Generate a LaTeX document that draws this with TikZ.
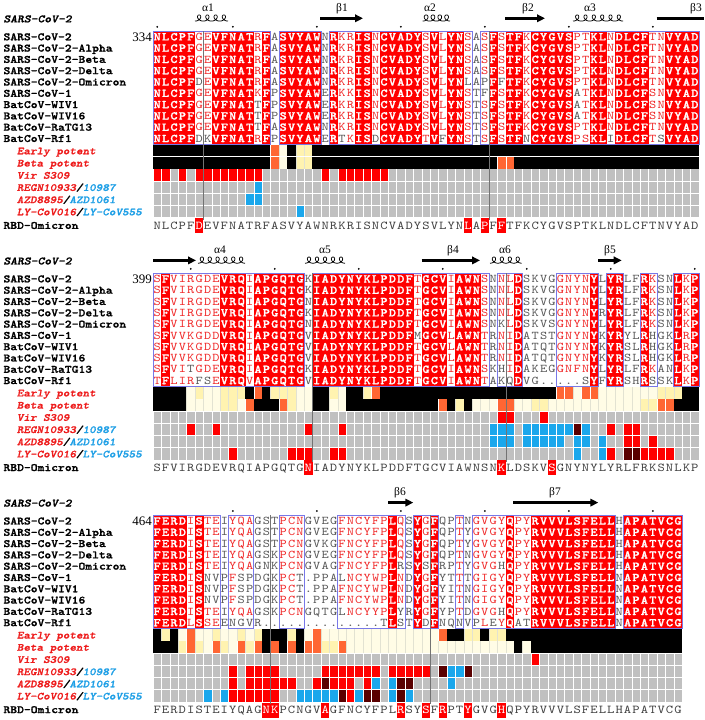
\documentclass[tikz,border=0pt]{standalone}
\usepackage{fontspec}
\setmainfont{Liberation Serif}
\newfontfamily\cour{lmmono10-regular}[Extension=.otf, BoldFont=lmmonolt10-bold, BoldItalicFont=lmmonolt10-boldoblique, BoldFeatures={FakeBold=1.3}, BoldItalicFeatures={FakeBold=1.3}, FakeStretch=1.16]
\usetikzlibrary{arrows.meta}
\definecolor{esred}{HTML}{FF0000}
\definecolor{txtred}{HTML}{F02828}
\definecolor{txtgrey}{HTML}{585858}
\definecolor{omigrey}{HTML}{404040}
\definecolor{framebl}{HTML}{7878E8}
\definecolor{annK}{HTML}{000000}
\definecolor{annO}{HTML}{FF6633}
\definecolor{annY}{HTML}{FFF3B0}
\definecolor{annC}{HTML}{FFFCE6}
\definecolor{annG}{HTML}{C0C0C0}
\definecolor{annR}{HTML}{FF0000}
\definecolor{annB}{HTML}{1AA7EC}
\definecolor{annM}{HTML}{5A0000}
\definecolor{sepl}{HTML}{E2E2D2}
\definecolor{labred}{HTML}{EE1C1C}
\definecolor{labblue}{HTML}{1E9FE6}
\tikzset{
 seqw/.style={font=\cour\bfseries\fontsize{11.8}{12}\selectfont, text=white, inner sep=0pt, anchor=base},
 seqt/.style={font=\cour\fontsize{11.8}{12}\selectfont, inner sep=0pt, anchor=base},
 omi/.style={font=\cour\fontsize{12}{12}\selectfont, inner sep=0pt, anchor=base, text=omigrey},
 namef/.style={font=\cour\bfseries\fontsize{11.2}{12}\selectfont, inner sep=0pt, anchor=base west},
 hdrf/.style={font=\cour\bfseries\itshape\fontsize{11.2}{12}\selectfont, inner sep=0pt, anchor=base west},
 annlab/.style={font=\cour\bfseries\itshape\fontsize{10.8}{12}\selectfont, inner sep=0pt, anchor=base west},
 sslab/.style={font=\fontsize{11.5}{12}\selectfont, inner sep=0pt, anchor=base},
 numf/.style={font=\fontsize{13}{13}\selectfont, inner sep=0pt, anchor=base east},
 frm/.style={draw=framebl, line width=0.7pt},
 cursor/.style={draw=black!55, line width=0.45pt},
 helixst/.style={line width=0.75pt},
 strand/.style={line width=2.6pt, -{Triangle[length=8pt,width=7.5pt]}},
 strandnohead/.style={line width=2.6pt}
}
% ---------- cell drawing (block, row, col, char)
\newcommand\AlnCellR[4]{%
  \pgfmathsetmacro\alnx{153+(#3-1)*8.4}%
  \pgfmathsetmacro\alny{31.2+(#2-1)*11.3+242.1*(#1-1)}%
  \fill[esred] (\alnx,\alny) rectangle ++(8.55,11.45);
  \node[seqw,name=s#1-#2-#3] at (\alnx+4.2,\alny+9.2) {#4};}
\newcommand\AlnCellT[5]{%
  \pgfmathsetmacro\alnx{153+(#3-1)*8.4}%
  \pgfmathsetmacro\alny{31.2+(#2-1)*11.3+242.1*(#1-1)}%
  \node[seqt,text=#5,name=s#1-#2-#3] at (\alnx+4.2,\alny+9.2) {#4};}
\newcommand\AlnAnnCell[5]{%
  \pgfmathsetmacro\alnx{153+(#3-1)*8.4}%
  \pgfmathsetmacro\alny{145+(#2-1)*12.2+242.1*(#1-1)}%
  \fill[#4] (\alnx,\alny) rectangle ++(8.45,11.4);
  \draw[#5, line width=0.35pt] (\alnx,\alny) -- ++(0,11.4);}
\newcommand\AlnOmiN[3]{%
  \pgfmathsetmacro\alnx{153+(#2-0.5)*8.4}%
  \pgfmathsetmacro\alny{225.5+3.65+242.1*(#1-1)}%
  \node[omi,name=o#1-#2] at (\alnx,\alny) {#3};}
\newcommand\AlnOmiM[3]{%
  \pgfmathsetmacro\alnx{153+(#2-1)*8.4}%
  \pgfmathsetmacro\alny{218.3+242.1*(#1-1)}%
  \fill[esred] (\alnx,\alny) rectangle ++(8.4,15);
  \node[omi,text=white,name=o#1-#2] at (\alnx+4.2,\alny+10.85) {#3};}
\newcommand\AlnFrame[3]{\draw[frm] ({153+(#2-1)*8.4},{31.2+242.1*(#1-1)}) rectangle ({153+#3*8.4},{144.2+242.1*(#1-1)});}
\newcommand\AlnCursor[2]{\draw[cursor] ({153+#2*8.4},{31.2+242.1*(#1-1)}) -- ({153+#2*8.4},{220+242.1*(#1-1)});}
\newcommand\AlnHelix[4]{%
  \pgfmathsetmacro\hend{180+360*#3}%
  \pgfmathtruncatemacro\hs{40*#3+1}%
  \pgfmathsetmacro\hp{(#2-#1)/#3}%
  \draw[helixst] plot[domain=180:\hend, samples=\hs, smooth, variable=\t] ({#1+((\t-180)/360)*\hp-3.4*sin(\t)},{#4-3.1*cos(\t)});}
\newcommand\AlnDots[2]{%
  \foreach \c in {#2} \fill ({153+(\c-0.5)*8.4},{26.8+242.1*(#1-1)}) circle (1.0);}
\newcommand\AlnLabels[2]{%
  \pgfmathsetmacro\oy{242.1*(#1-1)}%
  \node[hdrf, name=hdr#1] at (3.3,22.35+\oy) {SARS-CoV-2};
  \foreach \nm [count=\i] in {SARS-CoV-2,SARS-CoV-2-Alpha,SARS-CoV-2-Beta,SARS-CoV-2-Delta,SARS-CoV-2-Omicron,SARS-CoV-1,BatCoV-WIV1,BatCoV-WIV16,BatCoV-RaTG13,BatCoV-Rf1}
    {\node[namef, name=nm#1-\i] at (3.3,{36.85+(\i-1)*11.3+3.4+\oy}) {\nm};}
  \node[annlab, text=labred, name=la#1-1] at (16.7,{154.3+\oy}) {Early potent};
  \node[annlab, text=labred, name=la#1-2] at (16.7,{166.5+\oy}) {Beta potent};
  \node[annlab, text=labred, name=la#1-3] at (16.7,{178.7+\oy}) {Vir S309};
  \node[annlab, name=la#1-4] at (16.7,{190.9+\oy}) {\textcolor{labred}{REGN10933}/\textcolor{labblue}{10987}};
  \node[annlab, name=la#1-5] at (16.7,{203.1+\oy}) {\textcolor{labred}{AZD8895}/\textcolor{labblue}{AZD1061}};
  \node[annlab, name=la#1-6] at (16.7,{215.3+\oy}) {\textcolor{labred}{LY-CoV016}/\textcolor{labblue}{LY-CoV555}};
  \node[namef, name=rbd#1] at (3.3,{228.9+\oy}) {RBD-Omicron};
  \node[numf, name=num#1] at (152,{41+\oy}) {#2};}
\ExplSyntaxOn
\str_new:N \l__aln_row_str
\str_new:N \l__aln_cls_str
\str_new:N \l__aln_ref_str
\str_new:N \l__aln_ch_str
\str_new:N \l__aln_c_str
\str_new:N \l__aln_r_str
\cs_new:Npn \Rep #1#2 { \prg_replicate:nn {#1} {#2} }
\cs_new:Npn \__aln_grp:n #1
  { \str_case:nnF {#1} { {K}{k} {R}{k} {I}{i} {L}{i} {V}{i} {M}{i} {F}{f} {Y}{f} {W}{f} {D}{d} {E}{d} {N}{n} {Q}{n} {S}{s} {T}{s} } {#1} }
\cs_new_protected:Npn \__aln_cell:nnnnnn #1#2#3#4#5#6
  {
    \str_case:nnF {#5}
      {
        {R} { \AlnCellR {#1} {#2} {#3} {#4} }
        {s} { \str_if_eq:eeTF { \__aln_grp:n {#4} } { \__aln_grp:n {#6} }
               { \AlnCellT {#1} {#2} {#3} {#4} {txtred} }
               { \AlnCellT {#1} {#2} {#3} {#4} {txtgrey} } }
      }
      { \AlnCellT {#1} {#2} {#3} {#4} {txtgrey} }
  }
\cs_generate_variant:Nn \__aln_cell:nnnnnn { nnnVVV }
\cs_new_protected:Npn \__aln_row:nnn #1#2#3
  {
    \str_set:Nx \l__aln_row_str {#3}
    \int_step_inline:nn { \str_count:N \l__aln_row_str }
      {
        \str_set:Nx \l__aln_ch_str { \str_item:Nn \l__aln_row_str {##1} }
        \str_set:Nx \l__aln_c_str { \str_item:Nn \l__aln_cls_str {##1} }
        \str_set:Nx \l__aln_r_str { \str_item:Nn \l__aln_ref_str {##1} }
        \__aln_cell:nnnVVV {#1} {#2} {##1} \l__aln_ch_str \l__aln_c_str \l__aln_r_str
      }
  }
\cs_new_protected:Npn \__aln_anncell:nnnn #1#2#3#4
  {
    \str_case:nnF {#4}
      {
        {K} { \AlnAnnCell{#1}{#2}{#3}{annK}{annK} }
        {O} { \AlnAnnCell{#1}{#2}{#3}{annO}{white} }
        {Y} { \AlnAnnCell{#1}{#2}{#3}{annY}{sepl} }
        {C} { \AlnAnnCell{#1}{#2}{#3}{annC}{sepl} }
        {G} { \AlnAnnCell{#1}{#2}{#3}{annG}{white} }
        {R} { \AlnAnnCell{#1}{#2}{#3}{annR}{white} }
        {B} { \AlnAnnCell{#1}{#2}{#3}{annB}{white} }
        {M} { \AlnAnnCell{#1}{#2}{#3}{annM}{white} }
      }
      { \AlnAnnCell{#1}{#2}{#3}{white}{white} }
  }
\cs_generate_variant:Nn \__aln_anncell:nnnn { nnnV }
\cs_new_protected:Npn \__aln_ann:nnn #1#2#3
  {
    \str_set:Nx \l__aln_row_str {#3}
    \int_step_inline:nn { \str_count:N \l__aln_row_str }
      {
        \str_set:Nx \l__aln_ch_str { \str_item:Nn \l__aln_row_str {##1} }
        \__aln_anncell:nnnV {#1} {#2} {##1} \l__aln_ch_str
      }
  }
\cs_new_protected:Npn \__aln_omicell:nnnn #1#2#3#4
  { \str_if_eq:nnTF {#3} {#4} { \AlnOmiN {#1} {#2} {#3} } { \AlnOmiM {#1} {#2} {#3} } }
\cs_generate_variant:Nn \__aln_omicell:nnnn { nnVV }
\cs_new_protected:Npn \__aln_omi:nn #1#2
  {
    \str_set:Nx \l__aln_row_str {#2}
    \int_step_inline:nn { \str_count:N \l__aln_row_str }
      {
        \str_set:Nx \l__aln_ch_str { \str_item:Nn \l__aln_row_str {##1} }
        \str_set:Nx \l__aln_r_str { \str_item:Nn \l__aln_ref_str {##1} }
        \__aln_omicell:nnVV {#1} {##1} \l__aln_ch_str \l__aln_r_str
      }
  }
\NewDocumentCommand \AlnSetClasses { m } { \str_set:Nx \l__aln_cls_str {#1} }
\NewDocumentCommand \AlnSetRef { m } { \str_set:Nx \l__aln_ref_str {#1} }
\NewDocumentCommand \AlnRow { m m m } { \__aln_row:nnn {#1} {#2} {#3} }
\NewDocumentCommand \AlnAnn { m m m } { \__aln_ann:nnn {#1} {#2} {#3} }
\NewDocumentCommand \AlnOmi { m m } { \__aln_omi:nn {#1} {#2} }
\ExplSyntaxOff
\begin{document}
\begin{tikzpicture}[x=1pt,y=-1pt]
\useasboundingbox (0,0) rectangle (704,720);
\fill[white] (0,0) rectangle (704,720);
% ================= BLOCK 1 =================
\AlnSetRef{NLCPFGEVFNATRFASVYAWNRKRISNCVADYSVLYNSASFSTFKCYGVSPTKLNDLCFTNVYAD}
\AlnSetClasses{RRRRRssRRRRRsRgRRRRRgRssRRsRRRRRsRsRRsgsRsRRsRRRRRssRRsRRRRssRRRR}
\AlnRow{1}{1}{NLCPFGEVFNATRFASVYAWNRKRISNCVADYSVLYNSASFSTFKCYGVSPTKLNDLCFTNVYAD}
\AlnRow{1}{2}{NLCPFGEVFNATRFASVYAWNRKRISNCVADYSVLYNSASFSTFKCYGVSPTKLNDLCFTNVYAD}
\AlnRow{1}{3}{NLCPFGEVFNATRFASVYAWNRKRISNCVADYSVLYNSASFSTFKCYGVSPTKLNDLCFTNVYAD}
\AlnRow{1}{4}{NLCPFGEVFNATRFASVYAWNRKRISNCVADYSVLYNSASFSTFKCYGVSPTKLNDLCFTNVYAD}
\AlnRow{1}{5}{NLCPFDEVFNATRFASVYAWNRKRISNCVADYSVLYNLAPFFTFKCYGVSPTKLNDLCFTNVYAD}
\AlnRow{1}{6}{NLCPFGEVFNATKFPSVYAWERKKISNCVADYSVLYNSTFFSTFKCYGVSATKLNDLCFSNVYAD}
\AlnRow{1}{7}{NLCPFGEVFNATTFPSVYAWERKRISNCVADYSVLYNSTSFSTFKCYGVSATKLNDLCFSNVYAD}
\AlnRow{1}{8}{NLCPFGEVFNATTFPSVYAWERKRISNCVADYSVLYNSTSFSTFKCYGVSATKLNDLCFSNVYAD}
\AlnRow{1}{9}{NLCPFGEVFNATTFASVYAWNRKRISNCVADYSVLYNSTSFSTFKCYGVSPTKLNDLCFTNVYAD}
\AlnRow{1}{10}{NLCPFDKVFNATRFPSVYAWERTKISDCVADYTVFYNSTSFSTFNCYGVSPSKLIDLCFTSVYAD}
\AlnFrame{1}{1}{14}\AlnFrame{1}{16}{20}\AlnFrame{1}{22}{38}\AlnFrame{1}{40}{65}
\AlnAnn{1}{1}{\Rep{14}{K}OCKYY\Rep{46}{K}}
\AlnAnn{1}{2}{\Rep{14}{K}OCKYY\Rep{22}{K}OO\Rep{22}{K}}
\AlnAnn{1}{3}{RRGRG\Rep{8}{R}\Rep{7}{G}RG\Rep{6}{R}\Rep{37}{G}}
\AlnAnn{1}{4}{\Rep{12}{G}B\Rep{52}{G}}
\AlnAnn{1}{5}{\Rep{11}{G}BB\Rep{52}{G}}
\AlnAnn{1}{6}{\Rep{17}{G}B\Rep{47}{G}}
\AlnOmi{1}{NLCPFDEVFNATRFASVYAWNRKRISNCVADYSVLYNLAPFFTFKCYGVSPTKLNDLCFTNVYAD}
\AlnCursor{1}{6}\AlnCursor{1}{40}
\AlnLabels{1}{334}
\AlnDots{1}{1,10,20,30,40,50,60}
\AlnHelix{195}{228}{4}{18}
\AlnHelix{422.7}{450}{4}{18}
\AlnHelix{573}{623}{6}{18}
\draw[strand] (320,18.3) -- (363,18.3);
\draw[strand] (505,18.3) -- (545,18.3);
\draw[strandnohead] (656.7,18.3) -- (704,18.3);
\node[sslab,name=ss1a] at (208,11) {α1};
\node[sslab,name=ss1b] at (342,11) {β1};
\node[sslab,name=ss1c] at (430,11) {α2};
\node[sslab,name=ss1d] at (528,11) {β2};
\node[sslab,name=ss1e] at (590,11) {α3};
\node[sslab,name=ss1f] at (696,11) {β3};
% ================= BLOCK 2 =================
\AlnSetRef{SFVIRGDEVRQIAPGQTGKIADYNYKLPDDFTGCVIAWNSNNLDSKVGGNYNYLYRLFRKSNLKP}
\AlnSetClasses{sRssssssRRRsRRRRRRgRRRRRRRRRRRRsRRRsRRRsgssRggggssssRgRRggRsggRsR}
\AlnRow{2}{1}{SFVIRGDEVRQIAPGQTGKIADYNYKLPDDFTGCVIAWNSNNLDSKVGGNYNYLYRLFRKSNLKP}
\AlnRow{2}{2}{SFVIRGDEVRQIAPGQTGKIADYNYKLPDDFTGCVIAWNSNNLDSKVGGNYNYLYRLFRKSNLKP}
\AlnRow{2}{3}{SFVIRGDEVRQIAPGQTGNIADYNYKLPDDFTGCVIAWNSNNLDSKVGGNYNYLYRLFRKSNLKP}
\AlnRow{2}{4}{SFVIRGDEVRQIAPGQTGKIADYNYKLPDDFTGCVIAWNSNNLDSKVGGNYNYRYRLFRKSNLKP}
\AlnRow{2}{5}{SFVIRGDEVRQIAPGQTGNIADYNYKLPDDFTGCVIAWNSNKLDSKVSGNYNYLYRLFRKSNLKP}
\AlnRow{2}{6}{SFVVKGDDVRQIAPGQTGVIADYNYKLPDDFMGCVLAWNTRNIDATSTGNYNYKYRYLRHGKLRP}
\AlnRow{2}{7}{SFVVKGDDVRQIAPGQTGVIADYNYKLPDDFTGCVLAWNTRNIDATQTGNYNYKYRSLRHGKLRP}
\AlnRow{2}{8}{SFVVKGDDVRQIAPGQTGVIADYNYKLPDDFTGCVLAWNTRNIDATQTGNYNYKYRSLRHGKLRP}
\AlnRow{2}{9}{SFVITGDEVRQIAPGQTGKIADYNYKLPDDFTGCVIAWNSKHIDAKEGGNFNYLYRLFRKANLKP}
\AlnRow{2}{10}{TFLIRFSEVRQVAPGQTGVIADYNYKLPDDFTGCVIAWNTAKQDVG.....SYFYRSHRSSKLKP}
\AlnFrame{2}{1}{18}\AlnFrame{2}{20}{40}\AlnFrame{2}{42}{44}\AlnFrame{2}{49}{53}
\AlnFrame{2}{55}{56}\AlnFrame{2}{59}{60}\AlnFrame{2}{63}{65}
\AlnAnn{2}{1}{KKKKCYCCYYYKOKYYYCCKKYCKKYO\Rep{21}{K}OOCOO\Rep{7}{C}YYYKK}
\AlnAnn{2}{2}{KKKKCCCCYYCOKKKOYCCKKCC\Rep{11}{K}OKYKCCCOOCCYY\Rep{11}{C}YYOOKKK}
\AlnAnn{2}{3}{\Rep{41}{G}RR\Rep{3}{G}R\Rep{18}{G}}
\AlnAnn{2}{4}{GGGGRGGR\Rep{10}{G}RGGGR\Rep{17}{G}BBBG\Rep{6}{B}MBGGRGRR\Rep{7}{G}}
\AlnAnn{2}{5}{\Rep{40}{G}BBBG\Rep{5}{B}GBBGBGGRRGR\Rep{5}{G}}
\AlnAnn{2}{6}{\Rep{9}{G}R\Rep{6}{G}RRRGGRR\Rep{27}{G}BGGBRGMMRRRR\Rep{3}{G}}
\AlnOmi{2}{SFVIRGDEVRQIAPGQTGNIADYNYKLPDDFTGCVIAWNSNKLDSKVSGNYNYLYRLFRKSNLKP}
\AlnCursor{2}{19}\AlnCursor{2}{42}
\AlnLabels{2}{399}
\AlnDots{2}{5,15,25,35,45,55,65}
\draw[strand] (153,260.4) -- (196,260.4);
\AlnHelix{198}{245}{6}{260.1}
\AlnHelix{305}{345}{5}{260.1}
\draw[strand] (421.7,260.4) -- (480,260.4);
\AlnHelix{490}{521.7}{4}{260.1}
\draw[strand] (598.3,260.4) -- (621.7,260.4);
\node[sslab,name=ss2a] at (220,253.1) {α4};
\node[sslab,name=ss2b] at (325,253.1) {α5};
\node[sslab,name=ss2c] at (453,253.1) {β4};
\node[sslab,name=ss2d] at (505,253.1) {α6};
\node[sslab,name=ss2e] at (610,253.1) {β5};
% ================= BLOCK 3 =================
\AlnSetRef{FERDISTEIYQAGSTPCNGVEGFNCYFPLQSYGFQPTNGVGYQPYRVVVLSFELLHAPATVCG}
\AlnSetClasses{RRRRsRssgsssgggsssggggssssssRsgRsRggsgssssRssRRRRRRRRRRgRRRRRRR}
\AlnRow{3}{1}{FERDISTEIYQAGSTPCNGVEGFNCYFPLQSYGFQPTNGVGYQPYRVVVLSFELLHAPATVCG}
\AlnRow{3}{2}{FERDISTEIYQAGSTPCNGVEGFNCYFPLQSYGFQPTYGVGYQPYRVVVLSFELLHAPATVCG}
\AlnRow{3}{3}{FERDISTEIYQAGSTPCNGVKGFNCYFPLQSYGFQPTYGVGYQPYRVVVLSFELLHAPATVCG}
\AlnRow{3}{4}{FERDISTEIYQAGSKPCNGVEGFNCYFPLQSYGFQPTNGVGYQPYRVVVLSFELLHAPATVCG}
\AlnRow{3}{5}{FERDISTEIYQAGNKPCNGVAGFNCYFPLRSYSFRPTYGVGHQPYRVVVLSFELLHAPATVCG}
\AlnRow{3}{6}{FERDISNVPFSPDGKPCT.PPALNCYWPLNDYGFYTTTGIGYQPYRVVVLSFELLNAPATVCG}
\AlnRow{3}{7}{FERDISNVPFSPDGKPCT.PPAFNCYWPLNDYGFYITNGIGYQPYRVVVLSFELLNAPATVCG}
\AlnRow{3}{8}{FERDISNVPFSPDGKPCT.PPAFNCYWPLNDYGFYITNGIGYQPYRVVVLSFELLNAPATVCG}
\AlnRow{3}{9}{FERDISTEIYQAGSKPCNGQTGLNCYYPLYRYGFYPTDGVGHQPYRVVVLSFELLNAPATVCG}
\AlnRow{3}{10}{FERDLSSEENGVR..............TLSTYDFNQNVPLEYQATRVVVLSFELLNAPATVCG}
\AlnFrame{3}{1}{8}\AlnFrame{3}{10}{12}\AlnFrame{3}{16}{18}\AlnFrame{3}{23}{30}
\AlnFrame{3}{32}{34}\AlnFrame{3}{37}{37}\AlnFrame{3}{39}{55}\AlnFrame{3}{57}{63}
\AlnAnn{3}{1}{KYKCOCCYCCYCYKKKYKCO\Rep{14}{C}OKKYYKYY\Rep{21}{K}}
\AlnAnn{3}{2}{KKKYOYCOYCOYOKOKOKOOYYO\Rep{20}{C}KC\Rep{18}{K}}
\AlnAnn{3}{3}{\Rep{45}{G}R\Rep{17}{G}}
\AlnAnn{3}{4}{\Rep{9}{G}RG\Rep{4}{R}\Rep{5}{G}\Rep{7}{R}G\Rep{5}{R}GMBBM\Rep{25}{G}}
\AlnAnn{3}{5}{\Rep{9}{G}RG\Rep{6}{R}GGRMRRRGRBGBMM\Rep{4}{G}B\Rep{27}{G}}
\AlnAnn{3}{6}{\Rep{6}{G}BGB\Rep{6}{R}GG\Rep{5}{B}MRBMMGBMB\Rep{32}{G}}
\AlnOmi{3}{FERDISTEIYQAGNKPCNGVAGFNCYFPLRSYSFRPTYGVGHQPYRVVVLSFELLHAPATVCG}
\AlnCursor{3}{14}\AlnCursor{3}{33}
\AlnLabels{3}{464}
\AlnDots{3}{10,20,30,40,50,60}
\draw[strand] (388.3,502.6) -- (413.3,502.6);
\draw[strand] (513.3,502.6) -- (598.3,502.6);
\node[sslab,name=ss3a] at (400,495.4) {β6};
\node[sslab,name=ss3b] at (555,495.4) {β7};
\end{tikzpicture}
\end{document}
